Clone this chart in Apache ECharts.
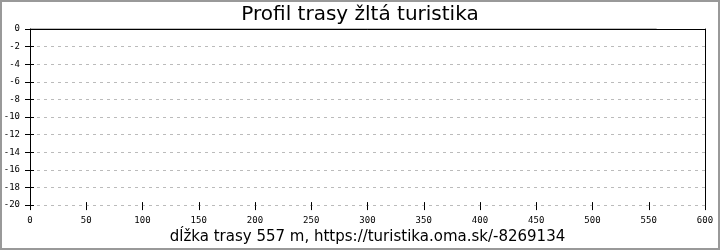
<!DOCTYPE html>
<html>
<head>
<meta charset="utf-8">
<script src="https://cdn.jsdelivr.net/npm/echarts@6/dist/echarts.min.js"></script>
<style>
html,body{margin:0;padding:0;background:#fff;}
#wrap{position:relative;width:720px;height:250px;}
#main{width:720px;height:250px;}
#frame{position:absolute;left:0;top:0;width:720px;height:250px;box-sizing:border-box;border:2px solid #999;pointer-events:none;}
</style>
</head>
<body>
<div id="wrap"><div id="main"></div><div id="frame"></div></div>
<script>
const titleText = 'Profil trasy žltá turistika';
const xAxisName = 'dĺžka trasy 557 m, https://turistika.oma.sk/-8269134';
const distances = [0, 557];
const elevations = [0, 0];
const xMin = 0, xMax = 600, xStep = 50;
const yMin = -20, yMax = 0, yStep = 2;

const labelFont = {fontFamily: 'DejaVu Sans Mono', fontSize: 9, color: '#000'};
const chart = echarts.init(document.getElementById('main'), null, {renderer: 'canvas'});
chart.setOption({
  animation: false,
  backgroundColor: '#fff',
  title: {
    text: titleText, left: 'center', top: 0,
    textStyle: {fontFamily: 'DejaVu Sans', fontSize: 20, fontWeight: 'normal', color: '#000'}
  },
  grid: {left: 30, right: 15, top: 29, bottom: 42, containLabel: false},
  xAxis: [
    {
      type: 'value', min: xMin, max: xMax, interval: xStep, position: 'bottom',
      name: xAxisName, nameLocation: 'middle', nameGap: 24,
      nameTextStyle: {fontFamily: 'DejaVu Sans', fontSize: 15, color: '#000'},
      axisLine: {show: false, onZero: false},
      axisTick: {show: true, inside: false, length: 5, lineStyle: {color: '#000', width: 1}},
      axisLabel: Object.assign({margin: 11}, labelFont),
      splitLine: {show: false}
    },
    {
      type: 'value', min: xMin, max: xMax, interval: xStep, position: 'bottom',
      axisLine: {show: false, onZero: false},
      axisTick: {show: true, inside: true, length: 3, lineStyle: {color: '#000', width: 1}},
      axisLabel: {show: false}, splitLine: {show: false}
    },
    {
      type: 'value', min: xMin, max: xMax, position: 'top',
      axisLine: {show: true, onZero: false, lineStyle: {color: '#000', width: 1}},
      axisTick: {show: false}, axisLabel: {show: false}, splitLine: {show: false}
    }
  ],
  yAxis: [
    {
      type: 'value', min: yMin, max: yMax, interval: yStep, position: 'left',
      axisLine: {show: true, onZero: false, lineStyle: {color: '#000', width: 1}},
      axisTick: {show: true, inside: false, length: 5, lineStyle: {color: '#000', width: 1}},
      axisLabel: Object.assign({margin: 10}, labelFont),
      splitLine: {show: true, lineStyle: {color: '#bbb', type: [3, 4], width: 1}}
    },
    {
      type: 'value', min: yMin, max: yMax, interval: yStep, position: 'left',
      axisLine: {show: false, onZero: false},
      axisTick: {show: true, inside: true, length: 4, lineStyle: {color: '#000', width: 1}},
      axisLabel: {show: false}, splitLine: {show: false}
    },
    {
      type: 'value', min: yMin, max: yMax, position: 'right',
      axisLine: {show: true, onZero: false, lineStyle: {color: '#000', width: 1}},
      axisTick: {show: false}, axisLabel: {show: false}, splitLine: {show: false}
    }
  ],
  series: [{
    type: 'line', xAxisIndex: 0, yAxisIndex: 0,
    data: distances.map((d, i) => [d, elevations[i]]),
    symbol: 'none', lineStyle: {color: '#000', width: 1}
  }]
});
</script>
</body>
</html>
